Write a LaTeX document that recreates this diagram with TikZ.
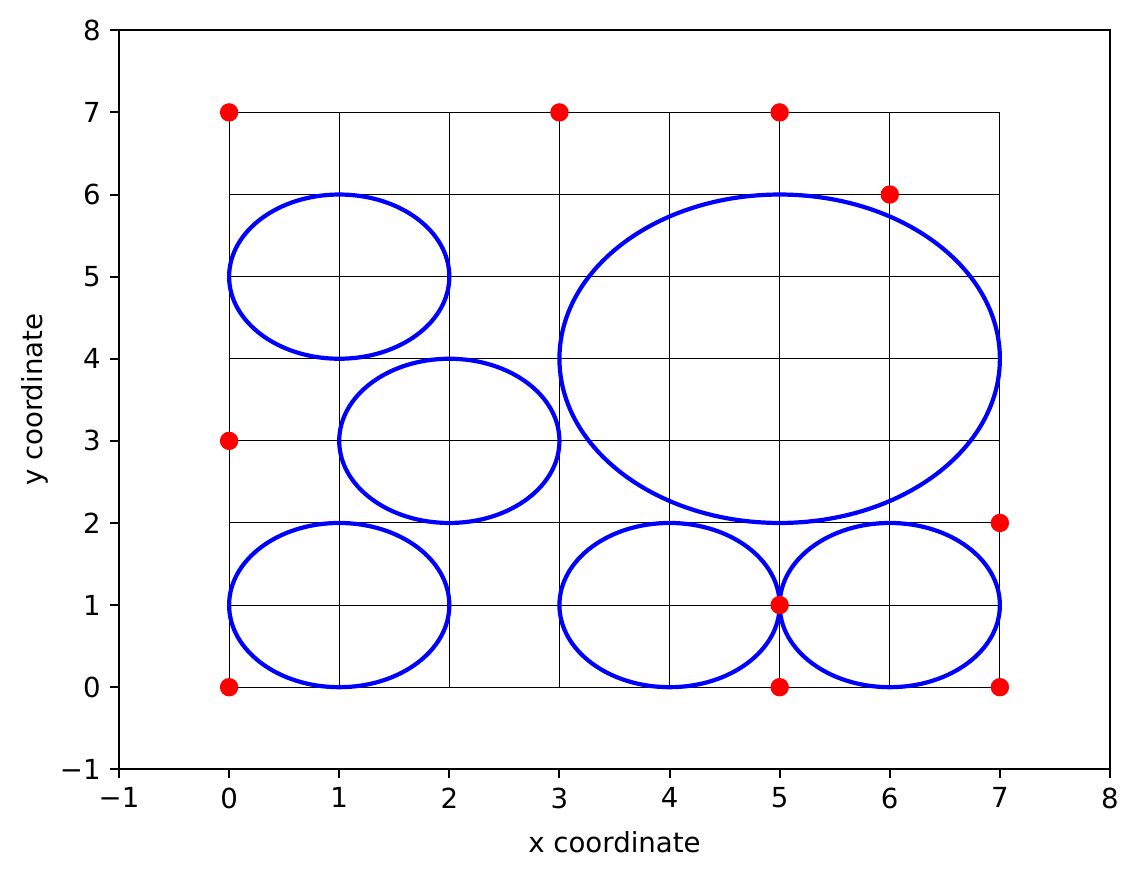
\documentclass[tikz,border=0pt]{standalone}
\usepackage{fontspec}
\setmainfont{DejaVu Sans}
\begin{document}
\begin{tikzpicture}[x=55.056pt,y=41.056pt,
  font=\fontsize{13.8}{16}\selectfont,
  gridline/.style={line width=0.5pt,black},
  ring/.style={draw=blue,line width=2.1pt},
  dot/.style={fill=red},
  spine/.style={line width=1pt,black,line cap=rect},
  tickmark/.style={line width=1pt,black}]
\useasboundingbox (-2.0807,-2.2994) rectangle (8.2726,8.3692);
% grid
\foreach \k in {0,...,7} {
  \draw[gridline] (\k,0) -- (\k,7);
  \draw[gridline] (0,\k) -- (7,\k);
}
% ellipses
\draw[ring] (1,5) ellipse [x radius=1, y radius=1];
\draw[ring] (2,3) ellipse [x radius=1, y radius=1];
\draw[ring] (1,1) ellipse [x radius=1, y radius=1];
\draw[ring] (4,1) ellipse [x radius=1, y radius=1];
\draw[ring] (6,1) ellipse [x radius=1, y radius=1];
\draw[ring] (5,4) ellipse [x radius=2, y radius=2];
% dots
\foreach \p in {(0,7),(3,7),(5,7),(6,6),(0,3),(7,2),(5,1),(0,0),(5,0),(7,0)}
  \fill[dot] \p circle [radius=4.6pt];
% axes
\draw[spine] (-1,-1) rectangle (8,8);
\foreach \v/\t in {-1/−1,0/0,1/1,2/2,3/3,4/4,5/5,6/6,7/7,8/8} {
  \draw[tickmark] (\v,-1) -- ++(0,-4.5pt) node[below=4.2pt,inner sep=0pt] {\t};
  \draw[tickmark] (-1,\v) -- ++(-4.5pt,0) node[left=4.2pt,inner sep=0pt] {\t};
}
\node (xl) at (3.5,-1) [yshift=-36.5pt, anchor=center] {x coordinate};
\node (yl) at (-1,3.5) [xshift=-42pt, rotate=90, anchor=center] {y coordinate};
\end{tikzpicture}
\end{document}
